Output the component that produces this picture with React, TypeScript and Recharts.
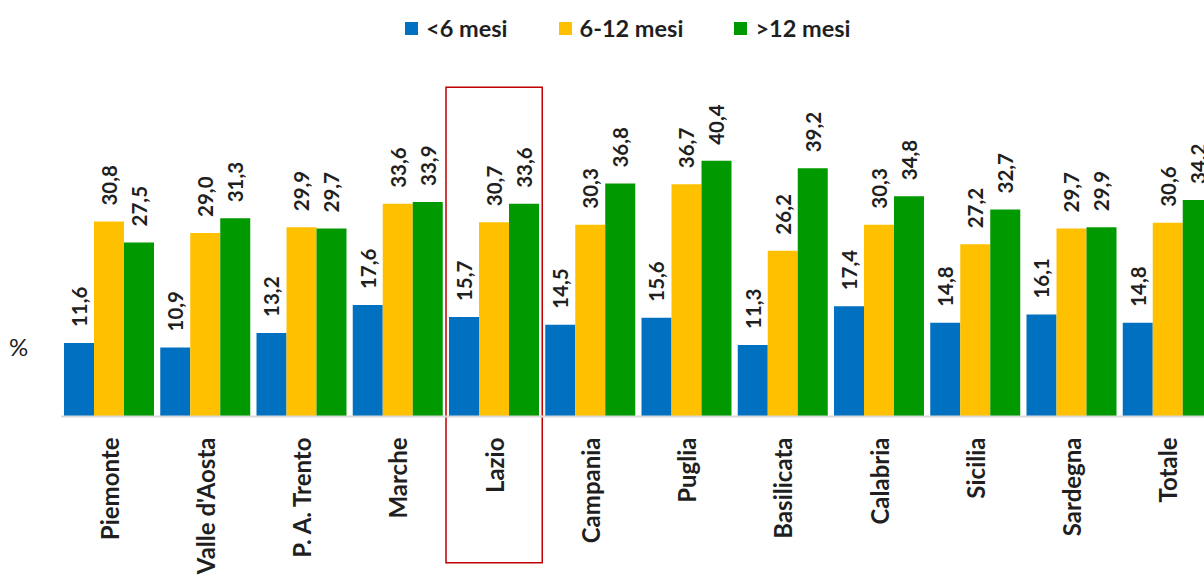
import { Bar, BarChart, LabelList, ReferenceArea, XAxis, YAxis } from "recharts";

const categories = [
  "Piemonte",
  "Valle d'Aosta",
  "P. A. Trento",
  "Marche",
  "Lazio",
  "Campania",
  "Puglia",
  "Basilicata",
  "Calabria",
  "Sicilia",
  "Sardegna",
  "Totale",
];

const underSix = [11.6, 10.9, 13.2, 17.6, 15.7, 14.5, 15.6, 11.3, 17.4, 14.8, 16.1, 14.8];
const sixToTwelve = [30.8, 29.0, 29.9, 33.6, 30.7, 30.3, 36.7, 26.2, 30.3, 27.2, 29.7, 30.6];
const overTwelve = [27.5, 31.3, 29.7, 33.9, 33.6, 36.8, 40.4, 39.2, 34.8, 32.7, 29.9, 34.2];

const series = [
  { key: "lt6", name: "<6 mesi", color: "#0070C0" },
  { key: "m612", name: "6-12 mesi", color: "#FFC000" },
  { key: "gt12", name: ">12 mesi", color: "#009900" },
];

const highlighted = "Lazio";

const data = categories.map((name, i) => ({
  name,
  lt6: underSix[i],
  m612: sixToTwelve[i],
  gt12: overTwelve[i],
}));

const FONT = "Lato, 'Open Sans', sans-serif";
const TEXT = "#1f1f1f";

const fmt = (v: number) => v.toFixed(1).replace(".", ",");

function ValueLabel(props: any) {
  const { x, y, width, value } = props;
  const cx = Number(x) + Number(width) / 2;
  const ty = Number(y) - 16;
  return (
    <text
      x={cx}
      y={ty}
      transform={`rotate(-90 ${cx} ${ty})`}
      textAnchor="start"
      dominantBaseline="central"
      fontFamily={FONT}
      fontWeight={700}
      fontSize={20.5}
      fill={TEXT}
    >
      {fmt(Number(value))}
    </text>
  );
}

function CategoryTick(props: any) {
  const { x, y, payload } = props;
  const ty = Number(y) + 13;
  return (
    <text
      x={x}
      y={ty}
      transform={`rotate(-90 ${x} ${ty})`}
      textAnchor="end"
      dominantBaseline="central"
      fontFamily={FONT}
      fontWeight={700}
      fontSize={24}
      fill={TEXT}
    >
      {payload.value}
    </text>
  );
}

export default function App() {
  return (
    <div
      style={{
        position: "fixed",
        left: 0,
        top: 0,
        width: 1204,
        height: 576,
        overflow: "hidden",
        background: "#ffffff",
      }}
    >
      <div
        style={{
          position: "absolute",
          top: 15,
          left: 405,
          display: "flex",
          gap: 51,
          fontFamily: FONT,
          fontWeight: 700,
          fontSize: 23.5,
          lineHeight: "26px",
          color: TEXT,
          whiteSpace: "nowrap",
        }}
      >
        {series.map((s) => (
          <div key={s.key} style={{ display: "flex", alignItems: "center" }}>
            <span
              style={{
                display: "inline-block",
                width: 13,
                height: 13,
                background: s.color,
                marginRight: 8,
              }}
            />
            <span>{s.name}</span>
          </div>
        ))}
      </div>
      <div
        style={{
          position: "absolute",
          left: 9,
          top: 332,
          fontFamily: FONT,
          fontSize: 24,
          color: TEXT,
        }}
      >
        %
      </div>
      <BarChart
        width={1216}
        height={576}
        data={data}
        margin={{ top: 100, right: 0, bottom: 0, left: 61 }}
        barGap={0}
        barSize={30}
      >
        <XAxis
          dataKey="name"
          height={159.5}
          interval={0}
          tickLine={false}
          axisLine={{ stroke: "#d9d9d9", strokeWidth: 2 }}
          tick={<CategoryTick />}
        />
        <YAxis hide domain={[0, 50]} />
        {series.map((s) => (
          <Bar key={s.key} dataKey={s.key} name={s.name} fill={s.color} isAnimationActive={false}>
            <LabelList dataKey={s.key} content={<ValueLabel />} />
          </Bar>
        ))}
        <ReferenceArea
          x1={highlighted}
          x2={highlighted}
          y1={52}
          y2={-23.1}
          ifOverflow="visible"
          fill="none"
          fillOpacity={0}
          stroke="#C00000"
          strokeWidth={1.5}
        />
      </BarChart>
    </div>
  );
}
